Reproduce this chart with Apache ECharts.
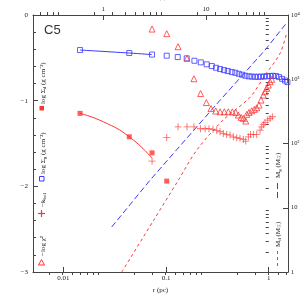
<!DOCTYPE html>
<html><head><meta charset="utf-8">
<script src="https://cdn.jsdelivr.net/npm/echarts@6/dist/echarts.min.js"></script>
<style>html,body{margin:0;padding:0;background:#fff}#c{width:305px;height:305px}</style>
</head><body><div id="c"></div>
<script>
// ---- data (r in pc, masses in Msun) ----
const PC_PER_ARCSEC = 0.0245;
const sigD_r = [0.01455, 0.0439, 0.0731, 0.1016];
const sigD_v = [-1.148, -1.422, -1.609, -1.939];
const sigDfit_r = [0.01455, 0.0245, 0.0439, 0.0731];
const sigDfit_v = [-1.148, -1.246, -1.422, -1.67];
const sigG_r = [0.01455,0.0439,0.0731,0.1016,0.130,0.159,0.189,0.218,0.249,0.279,0.307,0.336,0.367,0.399,0.436,0.473,0.510,0.550,0.592,0.639,0.683,0.735,0.787,0.841,0.900,0.962,1.03,1.10,1.18,1.26,1.35,1.44,1.52];
const sigG_v = [-0.409,-0.444,-0.462,-0.475,-0.491,-0.506,-0.534,-0.553,-0.576,-0.596,-0.616,-0.631,-0.643,-0.654,-0.666,-0.674,-0.686,-0.697,-0.709,-0.716,-0.719,-0.721,-0.721,-0.720,-0.718,-0.715,-0.712,-0.710,-0.713,-0.725,-0.745,-0.765,-0.783];
const sigGfit_r = [0.01455, 0.0439, 0.0731];
const sigGfit_v = [-0.409, -0.444, -0.462];
const kbol_r = [0.0731,0.1016,0.131,0.160,0.187,0.216,0.240,0.262,0.287,0.312,0.336,0.361,0.390,0.420,0.452,0.488,0.525,0.566,0.597,0.633,0.665,0.708,0.764,0.823,0.855,0.886,0.920,0.978,1.03,1.084];
const kbol_v = [-1.706,-1.429,-1.305,-1.305,-1.305,-1.328,-1.328,-1.328,-1.335,-1.347,-1.363,-1.382,-1.394,-1.402,-1.422,-1.433,-1.440,-1.452,-1.472,-1.422,-1.394,-1.394,-1.394,-1.343,-1.305,-1.277,-1.254,-1.227,-1.207,-1.188];
const chi_r = [0.0731,0.1016,0.131,0.160,0.187,0.217,0.247,0.274,0.305,0.336,0.370,0.404,0.442,0.477,0.506,0.538,0.566,0.597,0.611,0.643,0.683,0.724,0.764,0.804,0.841,0.886,0.920,0.956,0.991,1.03,1.07];
const chi_v = [-0.164,-0.218,-0.370,-0.506,-0.744,-0.917,-1.022,-1.092,-1.121,-1.130,-1.130,-1.130,-1.130,-1.137,-1.168,-1.195,-1.207,-1.238,-1.160,-1.137,-1.118,-1.102,-1.083,-1.051,-0.993,-0.935,-0.896,-0.856,-0.818,-0.779,-0.751];
const mg_r = [0.0296, 0.0698, 0.336, 0.920, 1.496];
const mg_m = [5.02, 26.8, 472, 2840, 7560];
const md_r = [0.0371, 0.0752, 0.1318, 0.199, 0.359, 0.658, 0.920, 1.288, 1.507];
const md_m = [1.0, 6.27, 26.8, 78.7, 231, 526, 1158, 2523, 5475];

const xTickValues = [0.01, 0.1, 1];
const xTickLabels = ['0.01', '0.1', '1'];
const topTickValues = [1, 10];
const topTickLabels = ['1', '10'];
const leftTickLabels = ['−3', '−2', '−1', '0'];
const rightTickLabels = ['1', '10', '10²', '10³', '10⁴'];
const R_MIN = 0.00507, R_MAX = 1.54;

// ---- build ----
const lg = Math.log10;
const X_MIN = lg(R_MIN), X_MAX = lg(R_MAX);
const T_MIN = lg(R_MIN / PC_PER_ARCSEC), T_MAX = lg(R_MAX / PC_PER_ARCSEC);
function logMinors(lo, hi) {
  const out = [];
  for (let e = -4; e <= 4; e++) for (let k = 2; k <= 9; k++) {
    const v = lg(k) + e; if (v > lo && v < hi) out.push(v);
  }
  return out;
}
function pick(vals, labels, v) {
  const i = vals.findIndex(t => Math.abs(lg(t) - v) < 1e-6);
  return i >= 0 ? labels[i] : '';
}
const pairs = (xs, ys, fy) => xs.map((x, i) => [lg(x), fy ? fy(ys[i]) : ys[i]]);

const AX = '#444', TXT = '#222', RED = '#ff3535', BLUE = '#3a3aff';
const SERIF = 'Liberation Serif';
const lab = {fontSize: 7, fontFamily: SERIF, color: TXT};
const line = {show: true, onZero: false, lineStyle: {color: AX, width: 1}};
const plus = 'path://M4.4,0h1.2v4.4h4.4v1.2h-4.4v4.4h-1.2v-4.4h-4.4v-1.2h4.4z';

const chart = echarts.init(document.getElementById('c'), null, {renderer: 'canvas'});
const gridBox = {left: 33, right: 17, top: 15, bottom: 33, containLabel: false, outerBoundsMode: 'none'};

const rich = {
  s: {fontSize: 5, lineHeight: 5, verticalAlign: 'bottom', fontFamily: SERIF, fill: TXT},
  p: {fontSize: 5, lineHeight: 5, verticalAlign: 'top', fontFamily: SERIF, fill: TXT}
};
function vtext(x, y, text) {
  return {type: 'text', x: x, y: y, rotation: Math.PI / 2, silent: true,
    style: {text: text, rich: rich, fontSize: 7, lineHeight: 9, fontFamily: SERIF, fill: TXT,
      align: 'left', verticalAlign: 'middle', textAlign: 'left', textVerticalAlign: 'middle'}};
}

chart.setOption({
  animation: false,
  backgroundColor: '#fff',
  grid: gridBox,
  xAxis: [
    {type: 'value', position: 'bottom', min: X_MIN, max: X_MAX, axisLine: line,
      axisTick: {show: true, inside: true, length: 5, customValues: xTickValues.map(lg), lineStyle: {color: AX}},
      axisLabel: Object.assign({customValues: xTickValues.map(lg), margin: 3,
        formatter: v => pick(xTickValues, xTickLabels, v)}, lab),
      splitLine: {show: false},
      name: 'r (pc)', nameLocation: 'middle', nameGap: 11, nameTextStyle: lab},
    {type: 'value', position: 'bottom', min: X_MIN, max: X_MAX, axisLine: {show: false},
      axisTick: {show: true, inside: true, length: 3, customValues: logMinors(X_MIN, X_MAX), lineStyle: {color: AX}},
      axisLabel: {show: false}, splitLine: {show: false}},
    {type: 'value', position: 'top', min: T_MIN, max: T_MAX, axisLine: line,
      axisTick: {show: true, inside: true, length: 5, customValues: topTickValues.map(lg), lineStyle: {color: AX}},
      axisLabel: Object.assign({customValues: topTickValues.map(lg), margin: 2,
        formatter: v => pick(topTickValues, topTickLabels, v)}, lab),
      splitLine: {show: false},
      name: 'r (″)', nameLocation: 'middle', nameGap: 10, nameTextStyle: lab},
    {type: 'value', position: 'top', min: T_MIN, max: T_MAX, axisLine: {show: false},
      axisTick: {show: true, inside: true, length: 3, customValues: logMinors(T_MIN, T_MAX), lineStyle: {color: AX}},
      axisLabel: {show: false}, splitLine: {show: false}}
  ],
  yAxis: [
    {type: 'value', position: 'left', min: -3, max: 0, interval: 1, axisLine: line,
      axisTick: {show: true, inside: true, length: 5, lineStyle: {color: AX}},
      minorTick: {show: true, splitNumber: 5, length: 3, lineStyle: {color: AX}},
      axisLabel: Object.assign({margin: 5, formatter: v => leftTickLabels[Math.round(v) + 3]}, lab),
      splitLine: {show: false}, minorSplitLine: {show: false}},
    {type: 'value', position: 'right', min: 0, max: 4, interval: 1, axisLine: line,
      axisTick: {show: true, inside: true, length: 5, lineStyle: {color: AX}},
      axisLabel: Object.assign({margin: 3, formatter: v => rightTickLabels[Math.round(v)]}, lab, {fontSize: 6.5}),
      splitLine: {show: false}},
    {type: 'value', position: 'right', min: 0, max: 4, axisLine: {show: false},
      axisTick: {show: true, inside: true, length: 3, customValues: logMinors(0, 4), lineStyle: {color: AX}},
      axisLabel: {show: false}, splitLine: {show: false}}
  ],
  series: [
    {type: 'line', xAxisIndex: 0, yAxisIndex: 1, data: pairs(mg_r, mg_m, lg), showSymbol: false, symbol: 'none',
      lineStyle: {color: BLUE, width: 1, type: [6, 3]}, z: 2},
    {type: 'line', xAxisIndex: 0, yAxisIndex: 1, data: pairs(md_r, md_m, lg), showSymbol: false, symbol: 'none', smooth: 0.3,
      lineStyle: {color: RED, width: 1, type: [3, 3]}, z: 2},
    {type: 'line', xAxisIndex: 0, yAxisIndex: 0, data: pairs(sigGfit_r, sigGfit_v), showSymbol: false, symbol: 'none', smooth: true,
      lineStyle: {color: BLUE, width: 1}, z: 3},
    {type: 'line', xAxisIndex: 0, yAxisIndex: 0, data: pairs(sigDfit_r, sigDfit_v), showSymbol: false, symbol: 'none', smooth: true,
      lineStyle: {color: RED, width: 1}, z: 3},
    {type: 'scatter', xAxisIndex: 0, yAxisIndex: 0, data: pairs(sigG_r, sigG_v), symbol: 'rect', symbolSize: 5,
      itemStyle: {color: 'rgba(0,0,0,0)', borderColor: BLUE, borderWidth: 1}, z: 4},
    {type: 'scatter', xAxisIndex: 0, yAxisIndex: 0, data: pairs(chi_r, chi_v), symbol: 'triangle', symbolSize: 6,
      itemStyle: {color: 'rgba(0,0,0,0)', borderColor: RED, borderWidth: 1}, z: 4},
    {type: 'scatter', xAxisIndex: 0, yAxisIndex: 0, data: pairs(kbol_r, kbol_v), symbol: plus, symbolSize: 7,
      itemStyle: {color: RED}, z: 4},
    {type: 'scatter', xAxisIndex: 0, yAxisIndex: 0, data: pairs(sigD_r, sigD_v), symbol: 'rect', symbolSize: 5,
      itemStyle: {color: RED}, z: 5}
  ],
  graphic: [
    {type: 'text', x: 44, y: 30, silent: true,
      style: {text: 'C5', fontSize: 13, fontFamily: 'Liberation Sans', fill: '#333', align: 'left', verticalAlign: 'middle', textAlign: 'left', textVerticalAlign: 'middle'}},
    vtext(43, 104, 'log Σ{s|d} (g cm⁻²)'),
    {type: 'rect', shape: {x: 39.5, y: 106, width: 4.5, height: 4.5}, style: {fill: RED}, silent: true},
    vtext(43, 174, 'log Σ{s|g} (g cm⁻²)'),
    {type: 'rect', shape: {x: 39.5, y: 176.5, width: 4.5, height: 4.5}, style: {fill: 'none', stroke: BLUE, lineWidth: 1}, silent: true},
    vtext(43, 207, '−k{s|bol}'),
    {type: 'line', shape: {x1: 41.5, y1: 210, x2: 41.5, y2: 217}, style: {stroke: RED, lineWidth: 1.2}, silent: true},
    {type: 'line', shape: {x1: 38, y1: 213.5, x2: 45, y2: 213.5}, style: {stroke: RED, lineWidth: 1.2}, silent: true},
    vtext(43, 256, '−log χ²'),
    {type: 'polygon', shape: {points: [[41.5, 259.5], [44.5, 265], [38.5, 265]]}, style: {fill: 'none', stroke: RED, lineWidth: 1}, silent: true},
    vtext(278, 178, 'M{s|g} (M{s|☉})'),
    {type: 'line', shape: {x1: 277.5, y1: 183, x2: 277.5, y2: 200}, style: {stroke: BLUE, lineWidth: 1, lineDash: [6, 3]}, silent: true},
    vtext(278, 247, 'M{s|d} (M{s|☉})'),
    {type: 'line', shape: {x1: 277.5, y1: 251, x2: 277.5, y2: 266}, style: {stroke: RED, lineWidth: 1, lineDash: [3, 3]}, silent: true}
  ]
});
</script></body></html>
